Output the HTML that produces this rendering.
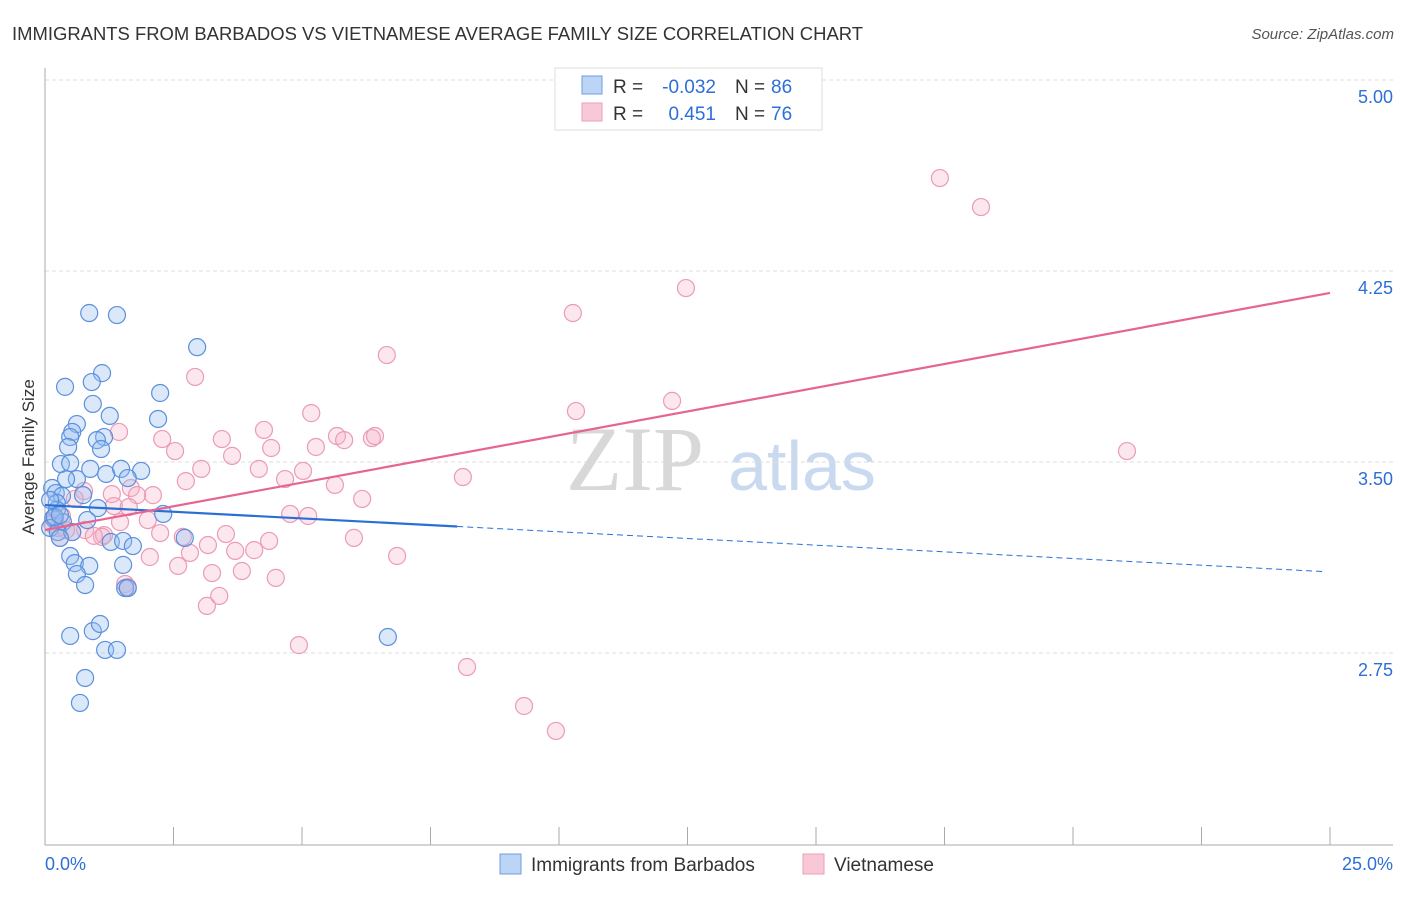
<!DOCTYPE html>
<html><head><meta charset="utf-8"><style>
body{margin:0;background:#fff;font-family:"Liberation Sans",sans-serif;}
svg text{font-family:"Liberation Sans",sans-serif;}
</style></head><body>
<svg id="c" width="1406" height="892" viewBox="0 0 1406 892">
<text x="12" y="40" font-size="18" textLength="851" lengthAdjust="spacingAndGlyphs" fill="#333">IMMIGRANTS FROM BARBADOS VS VIETNAMESE AVERAGE FAMILY SIZE CORRELATION CHART</text>
<text x="1394" y="39" font-size="15" fill="#555" font-style="italic" text-anchor="end">Source: ZipAtlas.com</text>
<g>
<text x="635" y="490" font-size="92" fill="#d8d8d8" text-anchor="middle" font-family="Liberation Serif" style="font-family:'Liberation Serif',serif">ZIP</text>
<text x="802" y="490" font-size="70" fill="#c9d9ef" text-anchor="middle">atlas</text>
</g>
<g id="grid"></g><g id="axes"></g><g id="pts"></g><g id="trend"></g>
<text transform="translate(34,457) rotate(-90)" font-size="17" fill="#333" text-anchor="middle">Average Family Size</text>
<g>
<rect x="555" y="68" width="267" height="62" fill="#fff" stroke="#ddd"/>
<rect x="582" y="76" width="20" height="18" fill="#bcd4f5" stroke="#6d9ee0"/>
<rect x="582" y="103" width="20" height="18" fill="#f9c8d6" stroke="#eba0b8"/>
<text x="613" y="93" font-size="19" fill="#333">R =</text>
<text x="716" y="93" font-size="19" fill="#2d6fd6" text-anchor="end">-0.032</text>
<text x="735" y="93" font-size="19" fill="#333">N =</text>
<text x="771" y="93" font-size="19" fill="#2d6fd6">86</text>
<text x="613" y="120" font-size="19" fill="#333">R =</text>
<text x="716" y="120" font-size="19" fill="#2d6fd6" text-anchor="end">0.451</text>
<text x="735" y="120" font-size="19" fill="#333">N =</text>
<text x="771" y="120" font-size="19" fill="#2d6fd6">76</text>
</g>
<g>
<rect x="500" y="854" width="21" height="20" fill="#bcd4f5" stroke="#6d9ee0"/>
<text x="531" y="871" font-size="19" fill="#333">Immigrants from Barbados</text>
<rect x="803" y="854" width="21" height="20" fill="#f9c8d6" stroke="#eba0b8"/>
<text x="834" y="871" font-size="19" fill="#333">Vietnamese</text>
</g>
</svg>
<script>
const yTicks=[5.00,4.25,3.50,2.75];
const xTickVals=[0,2.5,5,7.5,10,12.5,15,17.5,20,22.5,25];
const blueX=[0.86,1.40,2.96,1.11,0.39,0.91,2.24,0.93,1.26,2.20,0.62,0.53,0.49,1.15,1.01,1.09,0.45,0.31,0.49,0.88,1.19,1.48,1.87,1.61,0.62,0.14,0.41,0.21,0.74,0.33,0.23,1.03,2.30,0.82,0.23,0.16,0.35,0.10,0.25,0.53,0.29,2.72,1.28,1.52,1.71,0.49,0.58,0.86,0.62,1.52,1.56,1.61,0.78,6.67,0.49,0.93,1.07,1.17,1.40,0.78,0.68,0.19,0.29,0.10];
const blueY=[4.085,4.077,3.951,3.849,3.795,3.814,3.771,3.728,3.681,3.669,3.649,3.618,3.598,3.598,3.586,3.551,3.559,3.492,3.496,3.473,3.453,3.473,3.465,3.437,3.433,3.398,3.433,3.378,3.370,3.367,3.339,3.319,3.296,3.272,3.312,3.280,3.264,3.241,3.225,3.225,3.202,3.202,3.186,3.190,3.170,3.131,3.103,3.092,3.060,3.096,3.005,3.005,3.017,2.813,2.817,2.836,2.864,2.762,2.762,2.652,2.554,3.284,3.292,3.351];
const pinkX=[17.41,18.21,12.47,10.27,6.65,2.92,12.20,10.33,5.18,1.44,4.26,2.28,3.44,2.53,4.40,5.68,5.82,6.36,6.42,5.27,3.64,21.05,3.04,5.02,4.16,8.13,2.74,4.67,5.64,1.67,2.10,1.79,1.30,0.76,6.17,0.58,1.34,1.63,4.77,5.12,2.00,1.46,0.78,0.53,1.15,1.11,0.29,2.68,2.24,3.52,4.36,3.17,6.01,2.04,2.82,3.70,4.07,6.85,2.59,3.25,3.83,4.49,1.56,1.61,3.39,3.15,4.94,8.21,9.32,9.94,0.19,0.25,0.33,0.14,0.41,0.95];
const pinkY=[4.615,4.501,4.183,4.085,3.920,3.834,3.740,3.700,3.692,3.618,3.626,3.590,3.590,3.543,3.555,3.602,3.586,3.594,3.602,3.559,3.524,3.543,3.473,3.465,3.473,3.441,3.425,3.433,3.410,3.398,3.370,3.370,3.374,3.386,3.355,3.355,3.327,3.323,3.296,3.288,3.272,3.264,3.233,3.225,3.213,3.206,3.202,3.206,3.221,3.217,3.190,3.174,3.202,3.127,3.143,3.151,3.154,3.131,3.092,3.064,3.072,3.045,3.021,3.009,2.974,2.935,2.781,2.695,2.542,2.444,3.272,3.241,3.288,3.257,3.233,3.210];
const blueTrend=[3.331,-0.0105];
const pinkTrend=[3.233,0.03724];
const NS="http://www.w3.org/2000/svg";
const X=v=>45+v*51.4, Y=v=>80+(5-v)*254.67;
function mk(p,t,a){const e=document.createElementNS(NS,t);for(const k in a)e.setAttribute(k,a[k]);p.appendChild(e);return e;}
const grid=document.getElementById('grid'),axes=document.getElementById('axes'),pts=document.getElementById('pts'),tr=document.getElementById('trend');
yTicks.forEach(v=>{
 const l=mk(grid,'line',{x1:45,x2:1393,y1:Y(v),y2:Y(v),stroke:'#ddd','stroke-dasharray':'4,3'});
 
 
 const t=mk(grid,'text',{x:1393,y:Y(v)+23,'font-size':18,fill:'#2d6fd6','text-anchor':'end'});
 t.textContent=v.toFixed(2);
 
 
});
const ax=mk(axes,'line',{x1:45,x2:45,y1:68,y2:845,stroke:'#aaa'});


const bx=mk(axes,'line',{x1:45,x2:1393,y1:845,y2:845,stroke:'#aaa'});


xTickVals.slice(1).forEach(v=>{
 const t=mk(axes,'line',{x1:X(v),x2:X(v),y1:827,y2:845,stroke:'#aaa'});
 
 
});
const xl0=mk(axes,'text',{x:45,y:870,'font-size':18,fill:'#2d6fd6'});xl0.textContent='0.0%';


const xl1=mk(axes,'text',{x:1393,y:870,'font-size':18,fill:'#2d6fd6','text-anchor':'end'});xl1.textContent='25.0%';


pinkX.forEach((x,i)=>{
 const c=mk(pts,'circle',{cx:X(x),cy:Y(pinkY[i]),r:8.5,fill:'rgba(246,176,198,0.3)',stroke:'#eb9bb5','stroke-width':1.2});
 
 
});
blueX.forEach((x,i)=>{
 const c=mk(pts,'circle',{cx:X(x),cy:Y(blueY[i]),r:8.5,fill:'rgba(150,190,240,0.35)',stroke:'#5b90dd','stroke-width':1.2});
 
 
});
const bEnd=8.02;
const b1=mk(tr,'line',{x1:X(0),y1:Y(blueTrend[0]),x2:X(bEnd),y2:Y(blueTrend[0]+blueTrend[1]*bEnd),stroke:'#2a6fd6','stroke-width':2.2});


const b2=mk(tr,'line',{x1:X(bEnd),y1:Y(blueTrend[0]+blueTrend[1]*bEnd),x2:X(24.9),y2:Y(blueTrend[0]+blueTrend[1]*24.9),stroke:'#2a6fd6','stroke-width':1,'stroke-dasharray':'6,4'});


const p1=mk(tr,'line',{x1:X(0),y1:Y(pinkTrend[0]),x2:X(25),y2:Y(pinkTrend[0]+pinkTrend[1]*25),stroke:'#e6658f','stroke-width':2.2});


</script>
</body></html>
